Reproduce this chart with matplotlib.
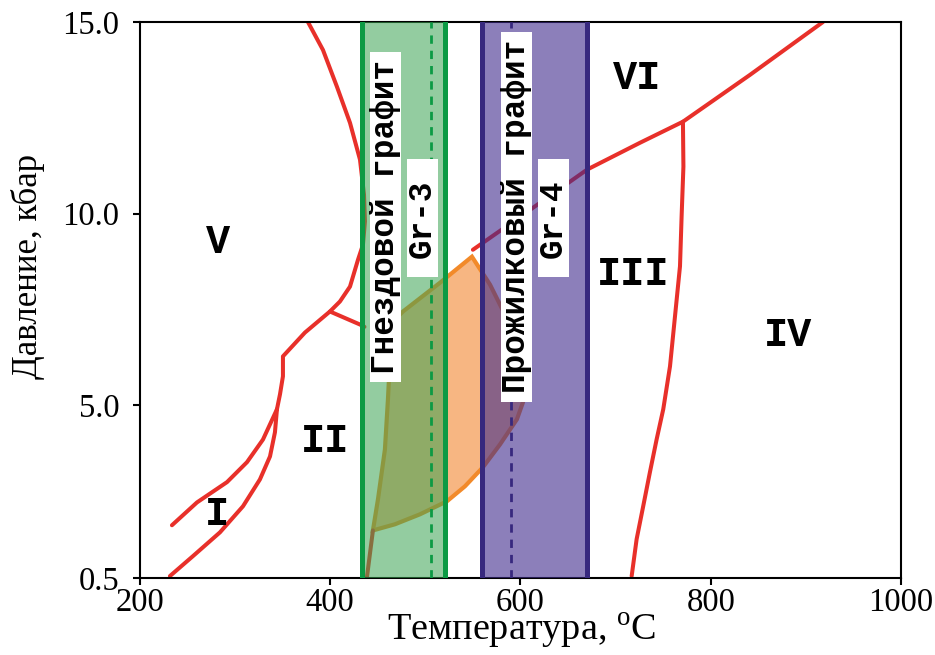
import matplotlib
matplotlib.use("Agg")
import matplotlib.pyplot as plt
from matplotlib.patches import Polygon

# фазовые границы: температура (C), давление (кбар)
v_curve_t = [376.6, 392.4, 407.1, 420.8, 431.3, 435.5, 436.5, 434.4, 429.2, 420.8, 410.2, 399.7,
             373.4, 350.3, 350.3, 347.2, 344.0]
v_curve_p = [15.0, 14.27, 13.31, 12.37, 11.41, 10.5, 9.8, 9.19, 8.80, 8.10, 7.71, 7.45,
             6.90, 6.28, 5.76, 5.29, 4.90]
i_upper_t = [344.0, 329.3, 312.5, 291.5, 259.9, 233.6]
i_upper_p = [4.90, 4.11, 3.52, 3.00, 2.47, 1.875]
i_lower_t = [344.0, 341.9, 336.7, 326.1, 308.3, 284.1, 255.7, 231.5]
i_lower_p = [4.90, 4.30, 3.67, 3.07, 2.37, 1.69, 1.07, 0.55]
spur_t = [399.7, 431.3, 436.0]
spur_p = [7.45, 7.11, 7.05]
low_seg_t = [444.9, 438.6]
low_seg_p = [1.74, 0.52]
vi_curve_t = [550.0, 610.0, 670.0, 725.6, 770.8, 841.2, 918.0]
vi_curve_p = [9.06, 10.10, 11.15, 11.85, 12.40, 13.62, 15.0]
iv_curve_t = [770.8, 771.3, 769.4, 767.7, 764.2, 757.2, 750.1, 743.1, 736.1, 729.1, 722.1, 716.9]
iv_curve_p = [12.40, 11.23, 9.93, 8.63, 7.76, 6.02, 4.90, 4.11, 3.26, 2.38, 1.51, 0.55]

# оранжевое поле
orange_t = [549, 568, 583.7, 596.3, 602.6, 602.6, 596.3, 578.4, 560.6, 541.6, 522.7, 494.3, 468,
            444.9, 450.2, 457.5, 460.7, 462.8, 462.8, 476.5, 515.4]
orange_p = [8.88, 8.15, 7.37, 6.59, 5.81, 5.08, 4.64, 3.98, 3.39, 2.89, 2.50, 2.16, 1.90,
            1.74, 2.55, 3.85, 5.16, 6.2, 7.11, 7.45, 8.2]

# интервалы температур графита
gr3_range = (433.7, 521.0)
gr3_mid = 505.6
gr4_range = (559.9, 670.2)
gr4_mid = 590.3

region_names = ["V", "VI", "III", "IV", "II", "I"]
region_t = [282.0, 723.0, 718.3, 881.5, 394.5, 281.0]
region_p = [9.27, 13.54, 8.44, 6.83, 4.07, 2.16]

x_ticks = [200, 400, 600, 800, 1000]
y_ticks = [0.5, 5.0, 10.0, 15.0]
y_tick_labels = ["0.5", "5.0", "10.0", "15.0"]

plt.rcParams['mathtext.fontset'] = 'custom'
plt.rcParams['mathtext.rm'] = 'Liberation Serif'

RED = "#e8302a"
fig = plt.figure(figsize=(9.35, 6.55), dpi=100)
ax = fig.add_axes([0.1497, 0.1176, 0.8139, 0.8488])

ax.add_patch(Polygon(list(zip(orange_t, orange_p)), closed=True, facecolor="#f7b682",
                     edgecolor="#f28a2a", lw=3, zorder=1))

for t, p in [(v_curve_t, v_curve_p), (i_upper_t, i_upper_p), (i_lower_t, i_lower_p),
             (spur_t, spur_p), (low_seg_t, low_seg_p), (vi_curve_t, vi_curve_p),
             (iv_curve_t, iv_curve_p)]:
    ax.plot(t, p, color=RED, lw=2.9, solid_capstyle="round", solid_joinstyle="round", zorder=2)

ax.axvspan(gr3_range[0], gr3_range[1], color="#3aa352", alpha=0.55, lw=0, zorder=3)
ax.axvspan(gr4_range[0], gr4_range[1], color="#3f2a8c", alpha=0.6, lw=0, zorder=3)
for xv in gr3_range:
    ax.axvline(xv, color="#0c9a44", lw=3.6, zorder=4)
for xv in gr4_range:
    ax.axvline(xv, color="#37287e", lw=3.6, zorder=4)
ax.axvline(gr3_mid, color="#0c9a44", lw=2, dashes=(3, 2.5), zorder=4)
ax.axvline(gr4_mid, color="#37287e", lw=2, dashes=(3, 2.5), zorder=4)

mono = dict(family="Liberation Mono", weight="bold", size=23.5, rotation=90,
            ha="center", va="center", zorder=6)
def box(pad):
    return dict(boxstyle="square,pad=%s" % pad, facecolor="white", edgecolor="none",
                mutation_aspect=0.01)
ax.text(458.4, 9.92, "Гнездовой графит", bbox=box(0.25), **mono)
ax.text(497.0, 9.88, "Gr-3", bbox=box(0.6), **mono)
ax.text(595.8, 9.92, "Прожилковый графит", bbox=box(0.25), **mono)
ax.text(634.7, 9.88, "Gr-4", bbox=box(0.6), **mono)

for name, t, p in zip(region_names, region_t, region_p):
    ax.text(t, p, name, family="Liberation Mono", weight="bold", size=29,
            ha="center", va="center", zorder=6)

ax.set_xlim(200, 1000)
ax.set_ylim(0.5, 15.0)
ax.set_xticks(x_ticks)
ax.set_yticks(y_ticks)
ax.set_yticklabels(y_tick_labels)
for lab in ax.get_xticklabels() + ax.get_yticklabels():
    lab.set_fontfamily("Liberation Serif")
    lab.set_fontsize(23.5)
ax.tick_params(direction="out", length=5, width=1.5, top=False, right=False)
ax.tick_params(axis="x", pad=2)
ax.tick_params(axis="y", pad=10)
for s in ax.spines.values():
    s.set_linewidth(1.5)

ax.set_xlabel("Температура, $^{\\mathrm{o}}$C", family="Liberation Serif", size=27.5)
ax.xaxis.set_label_coords(0.502, -0.112)
ax.xaxis.label.set_va("baseline")
ax.set_ylabel("Давление, кбар", family="Liberation Serif", size=25)
ax.yaxis.set_label_coords(-0.125, 0.561)

fig.savefig("out.png", dpi=100)
